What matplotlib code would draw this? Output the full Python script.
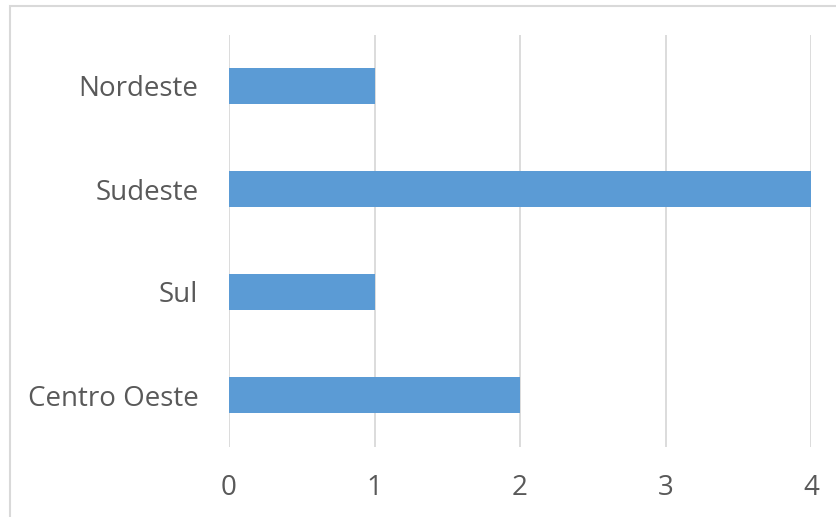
import matplotlib
matplotlib.use("Agg")
import matplotlib.pyplot as plt
from matplotlib.patches import Rectangle

# Regions and counts, bottom to top as drawn.
regioes = ['Centro Oeste', 'Sul', 'Sudeste', 'Nordeste']
valores = [2, 1, 4, 1]
ticks_x = [0, 1, 2, 3, 4]

plt.rcParams['font.family'] = ['Open Sans', 'DejaVu Sans']

fig = plt.figure(figsize=(8.36, 5.17), dpi=100)
ax = fig.add_axes([229/836, (517-446.5)/517, 582/836, 412/517])

ax.barh(range(len(regioes)), valores, height=0.35, color='#5B9BD5', zorder=3)
ax.set_ylim(-0.5, len(regioes) - 0.5)
ax.set_xlim(0, 4)
ax.set_xticks(ticks_x)
ax.set_yticks(range(len(regioes)))
ax.set_yticklabels(regioes)
ax.xaxis.grid(True, color='#D9D9D9', linewidth=1.3, zorder=0)
ax.tick_params(axis='both', length=0, labelsize=20, colors='#595959')
ax.tick_params(axis='x', pad=20)
ax.tick_params(axis='y', pad=22)
for s in ax.spines.values():
    s.set_visible(False)

# light frame around the chart area
fig.patches.append(Rectangle((10/836, -0.1), 1.0, 1.1 - 6/517, transform=fig.transFigure,
                             fill=False, edgecolor='#D9D9D9', linewidth=1.5))

fig.savefig('out.png', dpi=100)
